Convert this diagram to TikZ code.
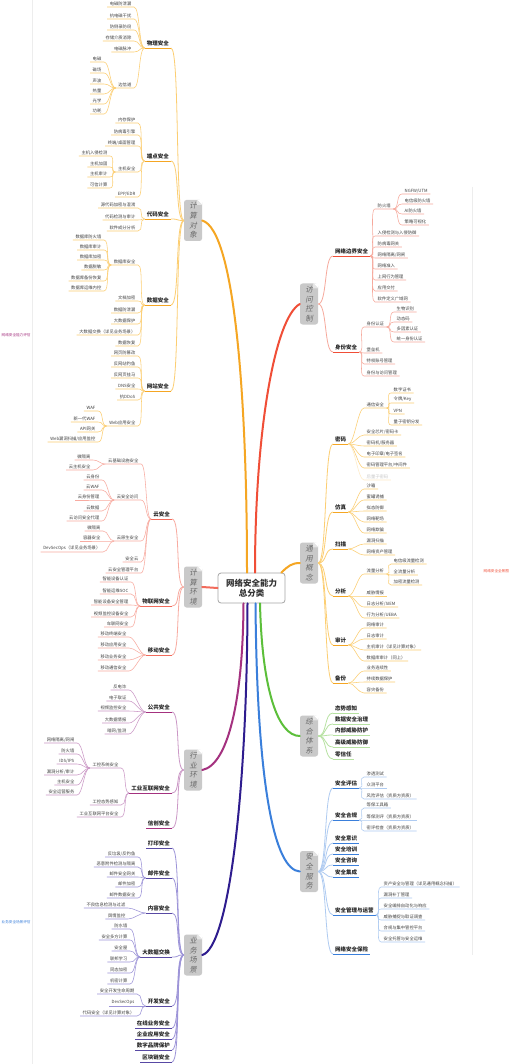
\documentclass[tikz,border=0pt]{standalone}
\usepackage{fontspec}
\setmainfont{Noto Sans CJK SC}
\newfontfamily\cjkit[FakeSlant=0.2]{Noto Sans CJK SC}
\usetikzlibrary{calc}
\definecolor{boxgray}{HTML}{C9C9C9}
\definecolor{cOr}{HTML}{F5A623}
\definecolor{cOrL}{HTML}{FCCE72}
\definecolor{cSa}{HTML}{F26B5B}
\definecolor{cSaL}{HTML}{F8ABA1}
\definecolor{cPl}{HTML}{A4317F}
\definecolor{cPlL}{HTML}{CB98C6}
\definecolor{cIn}{HTML}{2E1C8E}
\definecolor{cInL}{HTML}{9D94D8}
\definecolor{cRe}{HTML}{F04E37}
\definecolor{cReL}{HTML}{F6A99C}
\definecolor{cGr}{HTML}{5CBF3A}
\definecolor{cGrL}{HTML}{B7E2A2}
\definecolor{cBl}{HTML}{3A7FDB}
\definecolor{cBlL}{HTML}{AFCBF1}
\tikzset{
 catbox/.style={fill=boxgray, rounded corners=2.5pt, minimum width=18pt, minimum height=41pt, inner sep=0pt, align=center, font=\cjkit\fontsize{7.5}{9.6}\selectfont, text=black!58},
 ctr/.style={draw=black!35, line width=0.8pt, fill=white, rounded corners=3pt, minimum width=67pt, minimum height=30pt, align=center, font=\fontsize{8.5}{10.5}\selectfont\bfseries, text=black!80},
 Lt/.style={font=\fontsize{5.5}{6.5}\selectfont\bfseries, text=black!85, inner xsep=2pt, inner ysep=1.3pt},
 lf/.style={font=\fontsize{4.3}{5}\selectfont, text=black!75, inner xsep=2.5pt, inner ysep=1pt},
 tL/.style={anchor=south east}, tR/.style={anchor=south west},
 trunk/.style={line width=2pt, line cap=round},
 twig/.style={line width=0.55pt},
 l2line/.style={line width=0.8pt},
 tinylbl/.style={font=\fontsize{3.6}{4}\selectfont, inner sep=0.5pt},
}
\newcommand\kidsL[3]{\foreach \c in {#3} {\draw[twig,#1] (#2.south west) .. controls +(-6,0) and +(6,0) .. (\c.south east) -- (\c.south west);}}
\newcommand\kidsR[3]{\foreach \c in {#3} {\draw[twig,#1] (#2.south east) .. controls +(6,0) and +(-6,0) .. (\c.south west) -- (\c.south east);}}
\newcommand\brL[4]{\foreach \c in {#4} {\draw[l2line,#2] (#3.west) .. controls +(-9,0) and +(9,0) .. (\c.south east); \draw[l2line,#1] (\c.south east) -- (\c.south west);}}
\newcommand\brR[4]{\foreach \c in {#4} {\draw[l2line,#2] (#3.east) .. controls +(9,0) and +(-9,0) .. (\c.south west); \draw[l2line,#1] (\c.south west) -- (\c.south east);}}
\begin{document}
\begin{tikzpicture}[x=1pt,y=-1pt]
\useasboundingbox (0,0) rectangle (508,1064);
\fill[white] (0,0) rectangle (508,1064);
\draw[black!7, line width=0.4pt] (32,0) -- (32,1064);
\draw[black!7, line width=0.4pt] (472,187) -- (472,955);
\node[tinylbl, text=cPl, anchor=west] (lblL) at (1,335) {网络安全能力评估};
\node[tinylbl, text=cBl, anchor=west] (lblB) at (1,922) {业务安全场景评估};
\node[tinylbl, text=cRe, anchor=west] (lblR) at (483,571) {网络安全全景图};

%% center
\node[ctr] (O) at (251.5,588) {网络安全能力\\总分类};

%% category boxes
\node[catbox] (A) at (193,220.5) {计\\算\\对\\象};
\node[catbox] (B) at (193,587) {计\\算\\环\\境};
\node[catbox] (C) at (193,770) {行\\业\\环\\境};
\node[catbox] (D) at (193,955) {业\\务\\场\\景};
\node[catbox] (E) at (309,304) {访\\问\\控\\制};
\node[catbox] (F) at (309,563) {通\\用\\概\\念};
\node[catbox] (G) at (309,736) {综\\合\\体\\系};
\node[catbox] (H) at (309,871.5) {安\\全\\服\\务};
\foreach \b in {A,B,C,D,E,F,G,H} {
 \fill[white] ([xshift=-5pt]\b.north east) -- (\b.north east) -- ([yshift=-5pt]\b.north east) -- cycle;
 \fill[black!10] ([xshift=-5pt]\b.north east) -- ([yshift=-5pt]\b.north east) -- ([xshift=-5pt,yshift=-5pt]\b.north east) -- cycle;
}

%% trunks
\draw[trunk,cOr] ([xshift=-4.5pt]O.north) .. controls (247,400) and (235,230) .. (A.east);
\draw[trunk,cSa] (O.west) -- (B.east);
\draw[trunk,cPl] ([xshift=-8pt]O.south) .. controls (243,700) and (228,765) .. (C.east);
\draw[trunk,cIn] ([xshift=-4pt]O.south) .. controls (247,800) and (228,948) .. (D.east);
\draw[trunk,cRe] ([xshift=3.5pt]O.north) .. controls (255,430) and (275,318) .. (E.west);
\draw[trunk,cOr] ([xshift=-4pt]O.north east) .. controls (288,566) and (292,563) .. (F.west);
\draw[trunk,cGr] ([xshift=8.5pt]O.south) .. controls (262,690) and (278,736) .. (G.west);
\draw[trunk,cBl] ([xshift=4pt]O.south) .. controls (257,790) and (275,870) .. (H.west);

%% ===== 计算对象 =====
\node[Lt,tL] (A1) at (171,48) {物理安全};
\node[lf,tL] (A1a) at (134,7) {电磁防泄漏};
\node[lf,tL] (A1b) at (134,19) {抗电磁干扰};
\node[lf,tL] (A1c) at (134,30) {防侧录防窃};
\node[lf,tL] (A1d) at (134,41) {存储介质消除};
\node[lf,tL] (A1e) at (134,52) {电磁脉冲};
\node[lf,tL] (A1f) at (134,88) {边信道};
\node[lf,tL] (A1f1) at (104,62) {电磁};
\node[lf,tL] (A1f2) at (104,73) {磁场};
\node[lf,tL] (A1f3) at (104,84) {声波};
\node[lf,tL] (A1f4) at (104,94) {热量};
\node[lf,tL] (A1f5) at (104,104) {光学};
\node[lf,tL] (A1f6) at (104,114) {功耗};
\node[Lt,tL] (A2) at (171,161) {端点安全};
\node[lf,tL] (A2a) at (138,123) {内存保护};
\node[lf,tL] (A2b) at (138,135) {防病毒引擎};
\node[lf,tL] (A2c) at (138,146) {终端/桌面管理};
\node[lf,tL] (A2d) at (138,172) {主机安全};
\node[lf,tL] (A2e) at (138,197) {EPP/EDR};
\node[lf,tL] (A2d1) at (110,156) {主机入侵检测};
\node[lf,tL] (A2d2) at (110,167) {主机加固};
\node[lf,tL] (A2d3) at (110,177) {主机审计};
\node[lf,tL] (A2d4) at (110,188) {可信计算};
\node[Lt,tL] (A3) at (171,219) {代码安全};
\node[lf,tL] (A3a) at (138,208) {源代码加密与混淆};
\node[lf,tL] (A3b) at (138,220) {代码检测与审计};
\node[lf,tL] (A3c) at (138,231) {软件成分分析};
\node[Lt,tL] (A4) at (171,305) {数据安全};
\node[lf,tL] (A4a) at (138,265) {数据库安全};
\node[lf,tL] (A4b) at (138,301) {文档加密};
\node[lf,tL] (A4c) at (138,313) {数据防泄漏};
\node[lf,tL] (A4d) at (138,324) {大数据保护};
\node[lf,tL] (A4e) at (138,335) {大数据交换（详见业务场景）};
\node[lf,tL] (A4f) at (138,346) {数据恢复};
\node[lf,tL] (A4a1) at (104,240) {数据库防火墙};
\node[lf,tL] (A4a2) at (104,250) {数据库审计};
\node[lf,tL] (A4a3) at (104,260) {数据库加密};
\node[lf,tL] (A4a4) at (104,270) {数据脱敏};
\node[lf,tL] (A4a5) at (104,281) {数据库备份恢复};
\node[lf,tL] (A4a6) at (104,291) {数据库运维内控};
\node[Lt,tL] (A5) at (171,391) {网站安全};
\node[lf,tL] (A5a) at (138,356) {网页防篡改};
\node[lf,tL] (A5b) at (138,367) {反网站钓鱼};
\node[lf,tL] (A5c) at (138,378) {反网页挂马};
\node[lf,tL] (A5d) at (138,389) {DNS安全};
\node[lf,tL] (A5e) at (138,400) {抗DDoS};
\node[lf,tL] (A5f) at (138,426) {Web应用安全};
\node[lf,tL] (A5f1) at (98,411) {WAF};
\node[lf,tL] (A5f2) at (98,422) {新一代WAF};
\node[lf,tL] (A5f3) at (98,432) {API网关};
\node[lf,tL] (A5f4) at (98,442) {Web漏洞扫描/应用监控};
\brL{cOr}{cOrL}{A}{A1,A2,A3,A4,A5}
\kidsL{cOrL}{A1}{A1a,A1b,A1c,A1d,A1e,A1f}
\kidsL{cOrL}{A1f}{A1f1,A1f2,A1f3,A1f4,A1f5,A1f6}
\kidsL{cOrL}{A2}{A2a,A2b,A2c,A2d,A2e}
\kidsL{cOrL}{A2d}{A2d1,A2d2,A2d3,A2d4}
\kidsL{cOrL}{A3}{A3a,A3b,A3c}
\kidsL{cOrL}{A4}{A4a,A4b,A4c,A4d,A4e,A4f}
\kidsL{cOrL}{A4a}{A4a1,A4a2,A4a3,A4a4,A4a5,A4a6}
\kidsL{cOrL}{A5}{A5a,A5b,A5c,A5d,A5e,A5f}
\kidsL{cOrL}{A5f}{A5f1,A5f2,A5f3,A5f4}

%% ===== 计算环境 =====
\node[Lt,tL] (B1) at (172,519) {云安全};
\node[lf,tL] (B1a) at (141,464) {云基础设施安全};
\node[lf,tL] (B1b) at (141,500) {云安全访问};
\node[lf,tL] (B1c) at (141,541) {云原生安全};
\node[lf,tL] (B1d) at (141,562) {安全云};
\node[lf,tL] (B1e) at (141,573) {云安全管理平台};
\node[lf,tL] (B1a1) at (93,460) {微隔离};
\node[lf,tL] (B1a2) at (93,470) {云主机安全};
\node[lf,tL] (B1b1) at (102,480) {云身份};
\node[lf,tL] (B1b2) at (102,490) {云WAF};
\node[lf,tL] (B1b3) at (102,500) {云身份管理};
\node[lf,tL] (B1b4) at (102,511) {云数据};
\node[lf,tL] (B1b5) at (102,521) {云访问安全代理};
\node[lf,tL] (B1c1) at (103,531) {微隔离};
\node[lf,tL] (B1c2) at (103,541) {容器安全};
\node[lf,tL] (B1c3) at (103,552) {DevSecOps（详见业务场景）};
\node[Lt,tL] (B2) at (172,606) {物联网安全};
\node[lf,tL] (B2a) at (131,582) {智能设备认证};
\node[lf,tL] (B2b) at (131,594) {智能运维SOC};
\node[lf,tL] (B2c) at (131,605) {智能设备安全管理};
\node[lf,tL] (B2d) at (131,617) {视频监控设备安全};
\node[lf,tL] (B2e) at (131,627) {车联网安全};
\node[Lt,tL] (B3) at (172,655) {移动安全};
\node[lf,tL] (B3a) at (129,637) {移动终端安全};
\node[lf,tL] (B3b) at (129,648) {移动应用安全};
\node[lf,tL] (B3c) at (129,660) {移动业务安全};
\node[lf,tL] (B3d) at (129,671) {移动通信安全};
\brL{cSa}{cSaL}{B}{B1,B2,B3}
\kidsL{cSaL}{B1}{B1a,B1b,B1c,B1d,B1e}
\kidsL{cSaL}{B1a}{B1a1,B1a2}
\kidsL{cSaL}{B1b}{B1b1,B1b2,B1b3,B1b4,B1b5}
\kidsL{cSaL}{B1c}{B1c1,B1c2,B1c3}
\kidsL{cSaL}{B2}{B2a,B2b,B2c,B2d,B2e}
\kidsL{cSaL}{B3}{B3a,B3b,B3c,B3d}

%% ===== 行业环境 =====
\node[Lt,tL] (C1) at (172,712) {公共安全};
\node[lf,tL] (C1a) at (129,690) {反电诈};
\node[lf,tL] (C1b) at (129,701) {电子取证};
\node[lf,tL] (C1c) at (129,711) {视频监控安全};
\node[lf,tL] (C1d) at (129,723) {大数据情报};
\node[lf,tL] (C1e) at (129,734) {暗网/监测};
\node[Lt,tL] (C2) at (172,793) {工业互联网安全};
\node[lf,tL] (C2a) at (121,768) {工控系统安全};
\node[lf,tL] (C2b) at (121,805) {工控态势感知};
\node[lf,tL] (C2c) at (121,817) {工业互联网平台安全};
\node[lf,tL] (C2a1) at (77,743) {网络隔离/网闸};
\node[lf,tL] (C2a2) at (77,754) {防火墙};
\node[lf,tL] (C2a3) at (77,764) {IDS/IPS};
\node[lf,tL] (C2a4) at (77,775) {漏洞分析/审计};
\node[lf,tL] (C2a5) at (77,785) {主机安全};
\node[lf,tL] (C2a6) at (77,795) {安全运营服务};
\node[Lt,tL] (C3) at (172,828) {信创安全};
\brL{cPl}{cPlL}{C}{C1,C2,C3}
\kidsL{cPlL}{C1}{C1a,C1b,C1c,C1d,C1e}
\kidsL{cPlL}{C2}{C2a,C2b,C2c}
\kidsL{cPlL}{C2a}{C2a1,C2a2,C2a3,C2a4,C2a5,C2a6}

%% ===== 业务场景 =====
\node[Lt,tL] (D1) at (172,848) {打印安全};
\node[Lt,tL] (D2) at (172,878) {邮件安全};
\node[lf,tL] (D2a) at (138,857) {反垃圾/反钓鱼};
\node[lf,tL] (D2b) at (138,867) {恶意附件检测与隔离};
\node[lf,tL] (D2c) at (138,877) {邮件安全网关};
\node[lf,tL] (D2d) at (138,887) {邮件加密};
\node[lf,tL] (D2e) at (138,898) {邮件数据安全};
\node[Lt,tL] (D3) at (172,913) {内容安全};
\node[lf,tL] (D3a) at (128,908) {不良信息检测与过滤};
\node[lf,tL] (D3b) at (128,919) {舆情监控};
\node[Lt,tL] (D4) at (172,957) {大数据交换};
\node[lf,tL] (D4a) at (130,929) {防水墙};
\node[lf,tL] (D4b) at (130,940) {安全多方计算};
\node[lf,tL] (D4c) at (130,951) {安全屋};
\node[lf,tL] (D4d) at (130,962) {联邦学习};
\node[lf,tL] (D4e) at (130,973) {同态加密};
\node[lf,tL] (D4f) at (130,984) {机密计算};
\node[Lt,tL] (D5) at (172,1006) {开发安全};
\node[lf,tL] (D5a) at (137,994) {安全开发生命周期};
\node[lf,tL] (D5b) at (137,1006) {DevSecOps};
\node[lf,tL] (D5c) at (137,1016) {代码安全（详见计算对象）};
\node[Lt,tL] (D6) at (172,1028) {在线业务安全};
\node[Lt,tL] (D7) at (172,1039) {企业应用安全};
\node[Lt,tL] (D8) at (172,1050) {数字品牌保护};
\node[Lt,tL] (D9) at (172,1062) {区块链安全};
\brL{cIn!80}{cInL}{D}{D1,D2,D3,D4,D5,D6,D7,D8,D9}
\kidsL{cInL}{D2}{D2a,D2b,D2c,D2d,D2e}
\kidsL{cInL}{D3}{D3a,D3b}
\kidsL{cInL}{D4}{D4a,D4b,D4c,D4d,D4e,D4f}
\kidsL{cInL}{D5}{D5a,D5b,D5c}

%% ===== 访问控制 =====
\node[Lt,tR] (E1) at (333,256) {网络边界安全};
\node[lf,tR] (E1a) at (375,209) {防火墙};
\node[lf,tR] (E1b) at (375,236) {入侵检测与入侵防御};
\node[lf,tR] (E1c) at (375,247) {防病毒网关};
\node[lf,tR] (E1d) at (375,258) {网络隔离/网闸};
\node[lf,tR] (E1e) at (375,269) {网络准入};
\node[lf,tR] (E1f) at (375,280) {上网行为管理};
\node[lf,tR] (E1g) at (375,291) {应用交付};
\node[lf,tR] (E1h) at (375,302) {软件定义广域网};
\node[lf,tR] (E1a1) at (402,194) {NGFW/UTM};
\node[lf,tR] (E1a2) at (402,204) {电信级防火墙};
\node[lf,tR] (E1a3) at (402,214) {AI防火墙};
\node[lf,tR] (E1a4) at (402,225) {策略可视化};
\node[Lt,tR] (E2) at (333,352) {身份安全};
\node[lf,tR] (E2a) at (364,327) {身份认证};
\node[lf,tR] (E2b) at (364,353) {堡垒机};
\node[lf,tR] (E2c) at (364,364) {特权账号管理};
\node[lf,tR] (E2d) at (364,376) {身份与访问管理};
\node[lf,tR] (E2a1) at (394,312) {生物识别};
\node[lf,tR] (E2a2) at (394,322) {动态码};
\node[lf,tR] (E2a3) at (394,332) {多因素认证};
\node[lf,tR] (E2a4) at (394,342) {统一身份认证};
\brR{cRe}{cReL}{E}{E1,E2}
\kidsR{cReL}{E1}{E1a,E1b,E1c,E1d,E1e,E1f,E1g,E1h}
\kidsR{cReL}{E1a}{E1a1,E1a2,E1a3,E1a4}
\kidsR{cReL}{E2}{E2a,E2b,E2c,E2d}
\kidsR{cReL}{E2a}{E2a1,E2a2,E2a3,E2a4}

%% ===== 通用概念 =====
\node[Lt,tR] (F1) at (333,444) {密码};
\node[lf,tR] (F1a) at (364,408) {通信安全};
\node[lf,tR] (F1b) at (364,435) {安全芯片/密码卡};
\node[lf,tR] (F1c) at (364,446) {密码机/服务器};
\node[lf,tR] (F1d) at (364,457) {电子印章/电子签名};
\node[lf,tR] (F1e) at (364,468) {密码管理平台/中间件};
\node[lf,tR,text=black!22] (F1f) at (364,480) {后量子密码};
\node[lf,tR] (F1a1) at (391,393) {数字证书};
\node[lf,tR] (F1a2) at (391,403) {令牌/Key};
\node[lf,tR] (F1a3) at (391,414) {VPN};
\node[lf,tR] (F1a4) at (391,425) {量子密钥分发};
\node[Lt,tR] (F2) at (333,512) {仿真};
\node[lf,tR] (F2a) at (364,489) {沙箱};
\node[lf,tR] (F2b) at (364,500) {蜜罐诱捕};
\node[lf,tR] (F2c) at (364,511) {拟态防御};
\node[lf,tR] (F2d) at (364,522) {网络靶场};
\node[lf,tR] (F2e) at (364,533) {网络欺骗};
\node[Lt,tR] (F3) at (333,549) {扫描};
\node[lf,tR] (F3a) at (364,544) {漏洞扫描};
\node[lf,tR] (F3b) at (364,555) {网络资产管理};
\node[Lt,tR] (F4) at (333,596) {分析};
\node[lf,tR] (F4a) at (364,574) {流量分析};
\node[lf,tR] (F4b) at (364,596) {威胁情报};
\node[lf,tR] (F4c) at (364,607) {日志分析/SIEM};
\node[lf,tR] (F4d) at (364,618) {行为分析/UEBA};
\node[lf,tR] (F4a1) at (391,564) {电信级流量检测};
\node[lf,tR] (F4a2) at (391,575) {全流量分析};
\node[lf,tR] (F4a3) at (391,585) {加密流量检测};
\node[Lt,tR] (F5) at (333,645) {审计};
\node[lf,tR] (F5a) at (364,628) {网络审计};
\node[lf,tR] (F5b) at (364,639) {日志审计};
\node[lf,tR] (F5c) at (364,650) {主机审计（详见计算对象）};
\node[lf,tR] (F5d) at (364,661) {数据库审计（同上）};
\node[Lt,tR] (F6) at (333,683) {备份};
\node[lf,tR] (F6a) at (364,671) {业务连续性};
\node[lf,tR] (F6b) at (364,682) {持续数据保护};
\node[lf,tR] (F6c) at (364,693) {容灾备份};
\brR{cOr}{cOrL}{F}{F1,F2,F3,F4,F5,F6}
\kidsR{cOrL}{F1}{F1a,F1b,F1c,F1d,F1e}
\draw[twig,cOrL!40] (F1.south east) .. controls +(6,0) and +(-6,0) .. (F1f.south west) -- (F1f.south east);
\kidsR{cOrL}{F1a}{F1a1,F1a2,F1a3,F1a4}
\kidsR{cOrL}{F2}{F2a,F2b,F2c,F2d,F2e}
\kidsR{cOrL}{F3}{F3a,F3b}
\kidsR{cOrL}{F4}{F4a,F4b,F4c,F4d}
\kidsR{cOrL}{F4a}{F4a1,F4a2,F4a3}
\kidsR{cOrL}{F5}{F5a,F5b,F5c,F5d}
\kidsR{cOrL}{F6}{F6a,F6b,F6c}

%% ===== 综合体系 =====
\node[Lt,tR] (G1) at (333,713) {态势感知};
\node[Lt,tR] (G2) at (333,724) {数据安全治理};
\node[Lt,tR] (G3) at (333,735) {内部威胁防护};
\node[Lt,tR] (G4) at (333,747) {高级威胁防御};
\node[Lt,tR] (G5) at (333,759) {零信任};
\brR{cGrL}{cGrL}{G}{G1,G2,G3,G4,G5}

%% ===== 安全服务 =====
\node[Lt,tR] (H1) at (333,788) {安全评估};
\node[lf,tR] (H1a) at (364,777) {渗透测试};
\node[lf,tR] (H1b) at (364,788) {众测平台};
\node[lf,tR] (H1c) at (364,799) {风险评估（资质方资质）};
\node[Lt,tR] (H2) at (333,820) {安全合规};
\node[lf,tR] (H2a) at (364,808) {等保工具箱};
\node[lf,tR] (H2b) at (364,820) {等保测评（资质方资质）};
\node[lf,tR] (H2c) at (364,831) {密评检查（资质方资质）};
\node[Lt,tR] (H3) at (333,843) {安全意识};
\node[Lt,tR] (H4) at (333,854) {安全培训};
\node[Lt,tR] (H5) at (333,865) {安全咨询};
\node[Lt,tR] (H6) at (333,877) {安全集成};
\node[Lt,tR] (H7) at (333,915) {安全管理与运营};
\node[lf,tR] (H7a) at (381,887) {资产安全与管理（详见通用概念扫描）};
\node[lf,tR] (H7b) at (381,898) {漏洞补丁管理};
\node[lf,tR] (H7c) at (381,909) {安全编排自动化与响应};
\node[lf,tR] (H7d) at (381,920) {威胁捕捉与取证调查};
\node[lf,tR] (H7e) at (381,931) {合规与集中管控平台};
\node[lf,tR] (H7f) at (381,942) {安全托管与安全运维};
\node[Lt,tR] (H8) at (333,954) {网络安全保险};
\brR{cBl}{cBlL}{H}{H1,H2,H3,H4,H5,H6,H7,H8}
\kidsR{cBlL}{H1}{H1a,H1b,H1c}
\kidsR{cBlL}{H2}{H2a,H2b,H2c}
\kidsR{cBlL}{H7}{H7a,H7b,H7c,H7d,H7e,H7f}
\end{tikzpicture}
\end{document}
